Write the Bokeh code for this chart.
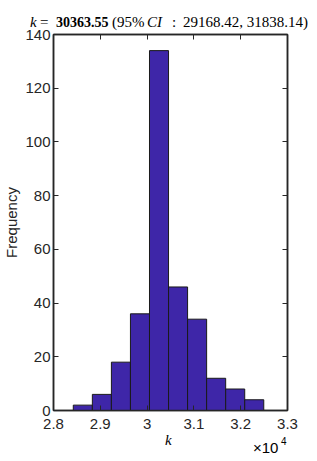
from bokeh.plotting import figure
from bokeh.models import Range1d, LinearAxis, FixedTicker, Div
from bokeh.layouts import column
from bokeh.embed import file_html
from bokeh.resources import INLINE

# ---- data ----
bin_edges = [28423, 28830, 29237, 29644, 30051, 30458, 30865, 31272, 31679, 32086, 32493]
counts = [2, 6, 18, 36, 134, 46, 34, 12, 8, 4]
x_ticks = [28000, 29000, 30000, 31000, 32000, 33000]
x_tick_labels = ["2.8", "2.9", "3", "3.1", "3.2", "3.3"]
y_ticks = [0, 20, 40, 60, 80, 100, 120, 140]
title_parts = ["k", "=", "30363.55", "(95%", "CI", ":", "29168.42, 31838.14)"]
x_label = "k"
y_label = "Frequency"
x_exponent = ["\u00d710", "4"]

AX = "#262626"
SANS = "Liberation Sans"
SERIF = "Liberation Serif"
W = 317

def span(txt, left, top, font=SERIF, size=15, style="normal", weight="normal"):
    return (f'<span style="position:absolute;left:{left}px;top:{top}px;white-space:nowrap;'
            f"font-family:'{font}';font-size:{size}px;font-style:{style};font-weight:{weight};"
            f'line-height:normal;color:black;">{txt}</span>')

def strip(inner, height):
    html = (f'<div style="position:relative;width:{W}px;height:{height}px;margin:0;padding:0;overflow:visible;">'
            + inner + '</div>')
    return Div(text=html, width=W, height=height, margin=0,
               styles={"margin": "0", "padding": "0", "overflow": "visible"})

# ---- title strip (text baseline sits slightly below the strip, over the transparent plot border) ----
title_left = [30, 40, 56, 112, 147, 172, 183]
title_style = ["italic", "normal", "normal", "normal", "italic", "normal", "normal"]
title_weight = ["normal", "normal", "bold", "normal", "normal", "normal", "normal"]
title_size = [15, 15, 14, 15, 15, 15, 15]
inner = ""
for t, l, s, w, z in zip(title_parts, title_left, title_style, title_weight, title_size):
    inner += span(t, l, 27.5 - 0.891 * z, style=s, weight=w, size=z)
top = strip(inner, 24)

# ---- main plot ----
p = figure(width=W, height=412, output_backend="svg", toolbar_location=None,
           x_range=Range1d(28000, 33000), y_range=Range1d(0, 140),
           min_border_left=51, min_border_right=30, min_border_top=10, min_border_bottom=26,
           x_axis_location=None, y_axis_location=None)
p.grid.visible = False
p.outline_line_color = AX
p.outline_line_width = 1.5
p.background_fill_color = "white"
p.border_fill_color = None

p.quad(left=bin_edges[:-1], right=bin_edges[1:], top=counts, bottom=0,
       fill_color="#3e26a8", line_color="#1a1a1a", line_width=1)

def style(ax, show_labels):
    ax.major_tick_in = 5
    ax.major_tick_out = 0
    ax.minor_tick_line_color = None
    ax.axis_line_color = AX
    ax.axis_line_width = 1.5
    ax.major_tick_line_color = AX
    ax.major_tick_line_width = 1
    ax.major_label_text_font = SANS
    ax.major_label_text_color = AX
    if show_labels:
        ax.major_label_text_font_size = "15px"
    else:
        ax.major_label_text_font_size = "0px"
        ax.major_label_text_alpha = 0
        ax.major_label_standoff = 0

xb = LinearAxis(ticker=FixedTicker(ticks=x_ticks),
                major_label_overrides=dict(zip(x_ticks, x_tick_labels)))
style(xb, True)
xb.major_label_standoff = 8
p.add_layout(xb, "below")

xt = LinearAxis(ticker=FixedTicker(ticks=x_ticks))
style(xt, False)
p.add_layout(xt, "above")

yl = LinearAxis(ticker=FixedTicker(ticks=y_ticks), axis_label=y_label)
style(yl, True)
yl.major_label_standoff = 3
yl.axis_label_standoff = 2
yl.axis_label_text_font = SANS
yl.axis_label_text_font_size = "15px"
yl.axis_label_text_font_style = "normal"
yl.axis_label_text_color = AX
p.add_layout(yl, "left")

yr = LinearAxis(ticker=FixedTicker(ticks=y_ticks))
style(yr, False)
p.add_layout(yr, "right")

# ---- bottom strip: x label and exponent ----
binner = (span(x_label, 165, 9 - 0.891 * 15, style="italic")
          + span(x_exponent[0], 253, 17 - 0.905 * 15, font=SANS, size=15)
          + span(x_exponent[1], 281, 9 - 0.905 * 10, font=SANS, size=10))
bot = strip(binner, 25)

layout = column(top, p, bot, spacing=0)
open("out.html", "w").write(file_html(layout, INLINE))
